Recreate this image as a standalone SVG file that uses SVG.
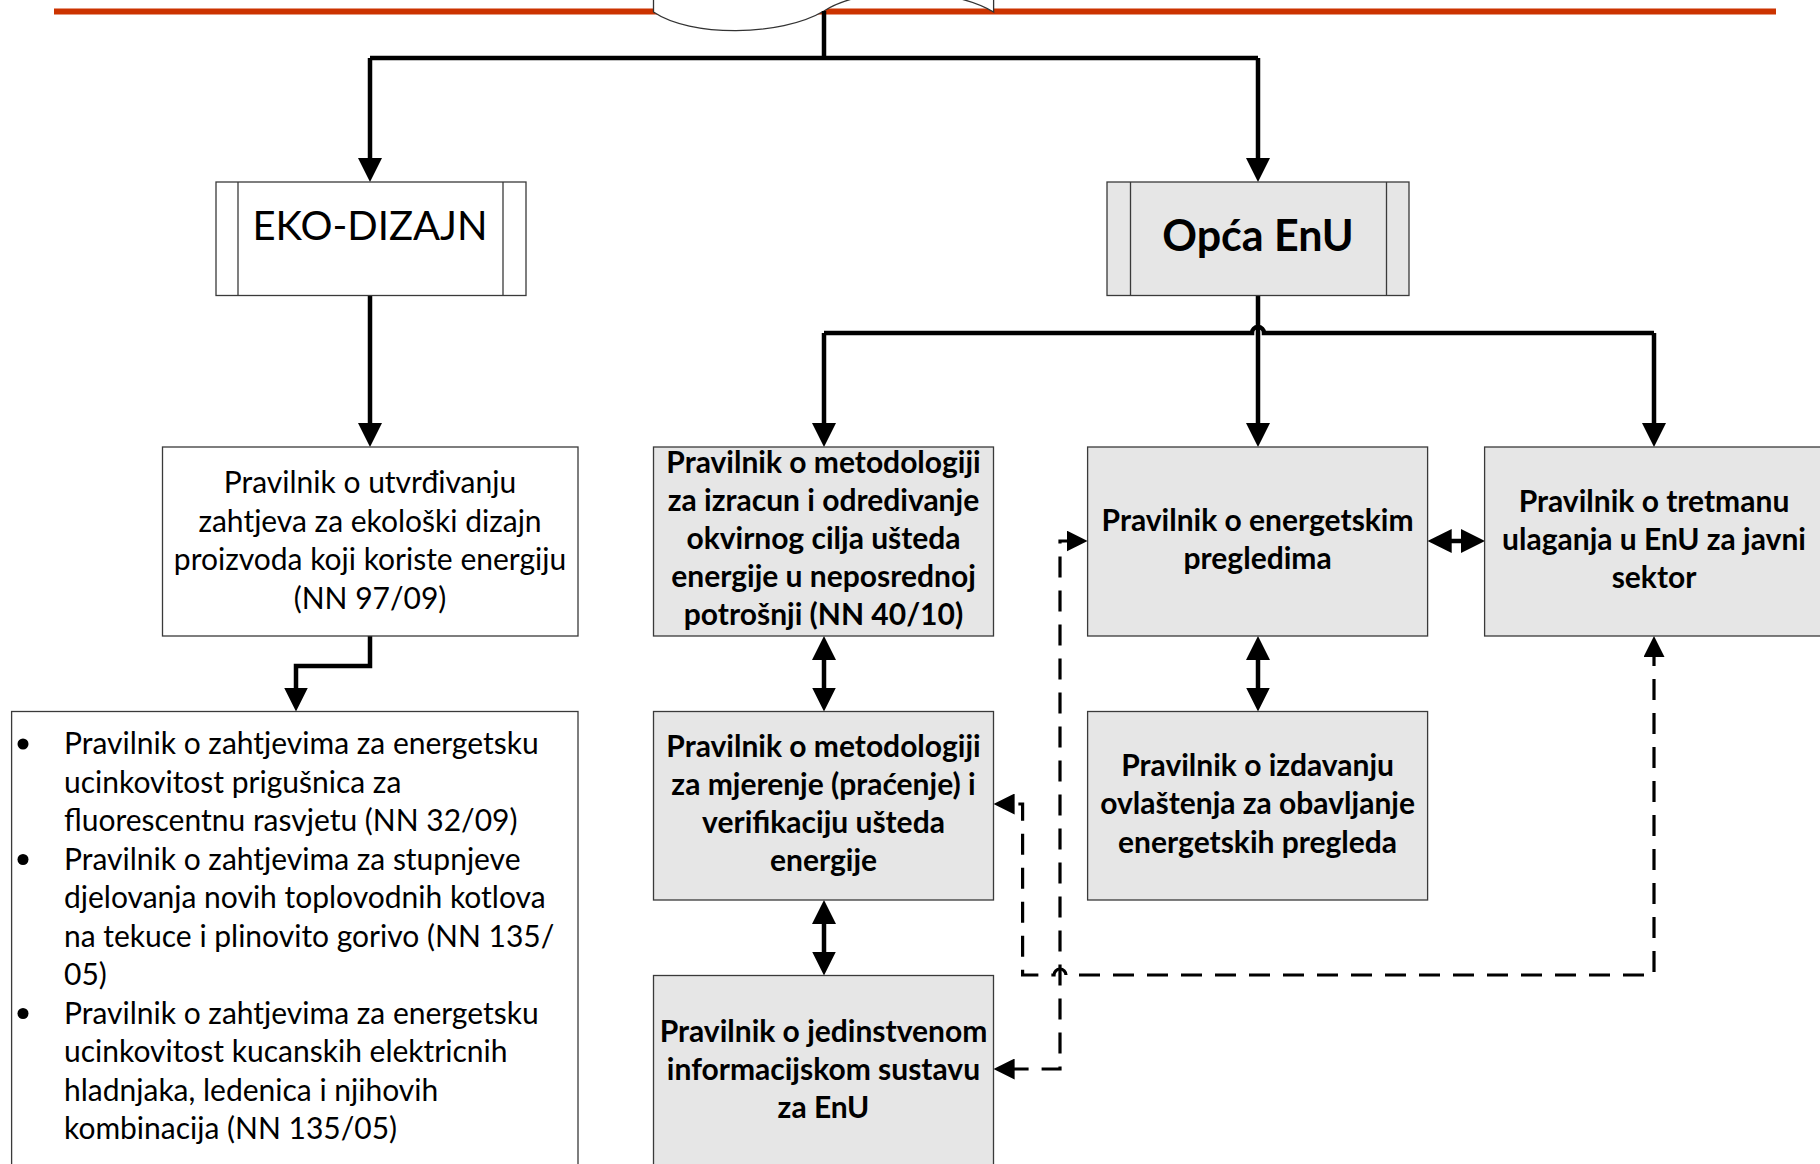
<svg xmlns="http://www.w3.org/2000/svg" width="1820" height="1164" viewBox="0 0 1820 1164">
<style>
.box{stroke:#3a3a3a;stroke-width:1.3}
.w{fill:#ffffff}
.g{fill:#e6e6e6}
.t{font-family:Lato,Carlito,"Liberation Sans",sans-serif;font-size:30px;fill:#000;text-anchor:middle}
.b{font-weight:bold}
.l{text-anchor:start}
.c{fill:none;stroke:#000;stroke-width:4.5;stroke-linejoin:miter}
.d{fill:none;stroke:#000;stroke-width:3.2;stroke-dasharray:21 13}
</style>
<defs>
<marker id="a" markerUnits="userSpaceOnUse" viewBox="0 0 24 24" markerWidth="24" markerHeight="24" refX="14" refY="12" orient="auto-start-reverse">
<path d="M0,0 L24,12 L0,24 Z" fill="#000"/>
</marker>
<marker id="ad" markerUnits="userSpaceOnUse" viewBox="0 0 21 21" markerWidth="21" markerHeight="21" refX="12" refY="10.5" orient="auto-start-reverse">
<path d="M0,0 L21,10.5 L0,21 Z" fill="#000"/>
</marker>
</defs>
<rect width="1820" height="1164" fill="#fff"/>
<rect x="54" y="8.5" width="1722" height="6" fill="#cc3300"/>
<g id="top">
<path d="M653.5,-5 V12 C690,37 780,37 824,11 C862,-14 950,-14 993.6,12 V-5 Z" fill="#fff" stroke="#333" stroke-width="1.3"/>
</g>
<g id="connectors">
<path class="c" d="M824,11 V58"/>
<path class="c" d="M370,58 H1258"/>
<path class="c" d="M370,58 V172" marker-end="url(#a)"/>
<path class="c" d="M1258,58 V172" marker-end="url(#a)"/>
<path class="c" d="M370,296 V437" marker-end="url(#a)"/>
<path class="c" d="M1258,296 V437" marker-end="url(#a)"/>
<path class="c" d="M824,333 H1252 A6,6 0 0 1 1264,333 H1654"/>
<path class="c" d="M824,333 V437" marker-end="url(#a)"/>
<path class="c" d="M1654,333 V437" marker-end="url(#a)"/>
<path class="c" d="M370,636 V666 H296 V701.5" marker-end="url(#a)"/>
<path class="c" d="M824,646 V701.5" marker-start="url(#a)" marker-end="url(#a)"/>
<path class="c" d="M824,910 V965.5" marker-start="url(#a)" marker-end="url(#a)"/>
<path class="c" d="M1258,646 V701.5" marker-start="url(#a)" marker-end="url(#a)"/>
<path class="c" d="M1437.7,541 H1475" marker-start="url(#a)" marker-end="url(#a)"/>
<path class="d" d="M1654,645 V975 H1066 A6,6 0 0 0 1054,975 H1022.6 V804 H1002.6" marker-start="url(#ad)" marker-end="url(#ad)"/>
<path class="d" d="M1078.6,541 H1060 V1069 H1002.6" marker-start="url(#ad)" marker-end="url(#ad)"/>
</g>
<g id="eko">
<rect class="box w" x="216" y="182" width="310" height="113.5"/>
<line class="box" x1="238" y1="182" x2="238" y2="295.5"/>
<line class="box" x1="503" y1="182" x2="503" y2="295.5"/>
<text class="t" x="370" y="240" style="font-size:40px">EKO-DIZAJN</text>
</g>
<g id="opca">
<rect class="box g" x="1107" y="182" width="302" height="113.5"/>
<line class="box" x1="1130.5" y1="182" x2="1130.5" y2="295.5"/>
<line class="box" x1="1386.5" y1="182" x2="1386.5" y2="295.5"/>
<text class="t b" x="1258" y="251" style="font-size:43px">Opća EnU</text>
</g>
<g id="utvrdivanju">
<rect class="box w" x="162.5" y="447" width="415.5" height="189"/>
<text class="t" x="370" y="493">Pravilnik o utvrđivanju</text>
<text class="t" x="370" y="531.5">zahtjeva za ekološki dizajn</text>
<text class="t" x="370" y="570">proizvoda koji koriste energiju</text>
<text class="t" x="370" y="608.5">(NN 97/09)</text>
</g>
<g id="lista">
<rect class="box w" x="11.6" y="711.5" width="566.4" height="470"/>
<circle cx="23" cy="744" r="5.5"/>
<circle cx="23" cy="859.5" r="5.5"/>
<circle cx="23" cy="1013.5" r="5.5"/>
<text class="t l" x="64" y="754">Pravilnik o zahtjevima za energetsku</text>
<text class="t l" x="64" y="792.5">ucinkovitost prigušnica za</text>
<text class="t l" x="64" y="831">fluorescentnu rasvjetu (NN 32/09)</text>
<text class="t l" x="64" y="869.5">Pravilnik o zahtjevima za stupnjeve</text>
<text class="t l" x="64" y="908">djelovanja novih toplovodnih kotlova</text>
<text class="t l" x="64" y="946.5">na tekuce i plinovito gorivo (NN 135/</text>
<text class="t l" x="64" y="985">05)</text>
<text class="t l" x="64" y="1023.5">Pravilnik o zahtjevima za energetsku</text>
<text class="t l" x="64" y="1062">ucinkovitost kucanskih elektricnih</text>
<text class="t l" x="64" y="1100.5">hladnjaka, ledenica i njihovih</text>
<text class="t l" x="64" y="1139">kombinacija (NN 135/05)</text>
</g>
<g id="metodologija1">
<rect class="box g" x="653.5" y="447" width="340" height="189"/>
<text class="t b" x="823.5" y="473">Pravilnik o metodologiji</text>
<text class="t b" x="823.5" y="511">za izracun i odredivanje</text>
<text class="t b" x="823.5" y="549">okvirnog cilja ušteda</text>
<text class="t b" x="823.5" y="587">energije u neposrednoj</text>
<text class="t b" x="823.5" y="625">potrošnji (NN 40/10)</text>
</g>
<g id="metodologija2">
<rect class="box g" x="653.5" y="711.5" width="340" height="188.5"/>
<text class="t b" x="823.5" y="757">Pravilnik o metodologiji</text>
<text class="t b" x="823.5" y="795">za mjerenje (praćenje) i</text>
<text class="t b" x="823.5" y="833">verifikaciju ušteda</text>
<text class="t b" x="823.5" y="871">energije</text>
</g>
<g id="jedinstveni">
<rect class="box g" x="653.5" y="975.5" width="340" height="210"/>
<text class="t b" x="823.5" y="1042">Pravilnik o jedinstvenom</text>
<text class="t b" x="823.5" y="1080">informacijskom sustavu</text>
<text class="t b" x="823.5" y="1118">za EnU</text>
</g>
<g id="pregledi">
<rect class="box g" x="1087.6" y="447" width="340" height="189"/>
<text class="t b" x="1257.6" y="531">Pravilnik o energetskim</text>
<text class="t b" x="1257.6" y="569">pregledima</text>
</g>
<g id="tretman">
<rect class="box g" x="1484.6" y="447" width="340" height="189"/>
<text class="t b" x="1654" y="512">Pravilnik o tretmanu</text>
<text class="t b" x="1654" y="550">ulaganja u EnU za javni</text>
<text class="t b" x="1654" y="588">sektor</text>
</g>
<g id="ovlastenja">
<rect class="box g" x="1087.6" y="711.5" width="340" height="188.5"/>
<text class="t b" x="1257.6" y="776">Pravilnik o izdavanju</text>
<text class="t b" x="1257.6" y="814">ovlaštenja za obavljanje</text>
<text class="t b" x="1257.6" y="852.5">energetskih pregleda</text>
</g>
</svg>
